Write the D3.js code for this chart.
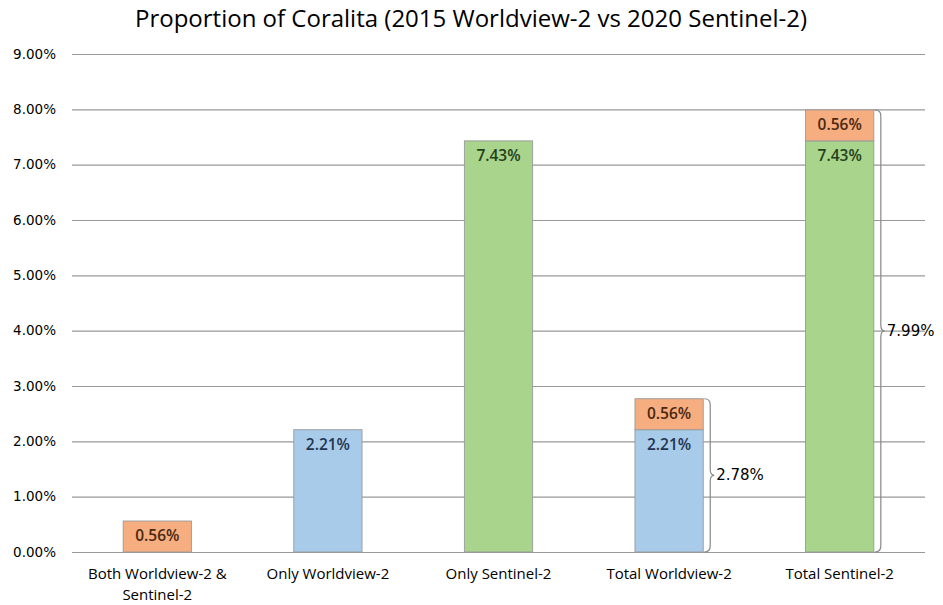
<!DOCTYPE html>
<html><head><meta charset="utf-8">
<script src="https://cdn.jsdelivr.net/npm/d3@7"></script>
<style>body{margin:0;background:#fff}</style>
</head><body>
<svg id="c" width="943" height="605"></svg>
<script>
const categories = ["Both Worldview-2 & Sentinel-2","Only Worldview-2","Only Sentinel-2","Total Worldview-2","Total Sentinel-2"];
const bothValues = [0.56, 0, 0, 0.56, 0.56];
const onlyWVValues = [0, 2.21, 0, 2.21, 0];
const onlySValues = [0, 0, 7.43, 0, 7.43];
const yTicks = [0,1,2,3,4,5,6,7,8,9];
const braceLabels = [null,null,null,"2.78%","7.99%"];
const title = "Proportion of Coralita (2015 Worldview-2 vs 2020 Sentinel-2)";

const svg = d3.select("#c");
const m = {l:72, r:18, t:54, b:53};
const W = 943, H = 605;
const x = d3.scaleBand().domain(categories).range([m.l, W-m.r]).paddingInner(0.6).paddingOuter(0.3);
const y = d3.scaleLinear().domain([0,9]).range([H-m.b, m.t]);

svg.append("text").attr("x",471).attr("y",27).attr("text-anchor","middle")
  .attr("font-family","Open Sans").attr("font-size",24).attr("fill","#000").text(title);

const yAxis = svg.append("g").attr("transform",`translate(${m.l},0)`)
  .call(d3.axisLeft(y).tickValues(yTicks).tickSize(-(W-m.r-m.l)).tickFormat(d=>d.toFixed(2)+"%"));
yAxis.select(".domain").remove();
yAxis.selectAll(".tick line").attr("stroke","#999").attr("stroke-width",1.2);
yAxis.selectAll(".tick text").attr("x",-16).attr("font-family","DejaVu Sans").attr("font-size",13.5).attr("fill","#000");

const series = [
  {name:"onlyWV", vals:onlyWVValues, fill:"#a9cbea", text:"#1f3550"},
  {name:"onlyS", vals:onlySValues, fill:"#a8d48c", text:"#24401a"},
  {name:"both", vals:bothValues, fill:"#f6ae80", text:"#4a2810"}
];
const base = categories.map(()=>0);
const bw = x.bandwidth();
series.forEach(s=>{
  categories.forEach((c,i)=>{
    const v = s.vals[i];
    if(!v) return;
    const y0 = base[i], y1 = base[i]+v;
    svg.append("rect").attr("x",x(c)).attr("width",bw).attr("y",y(y1)).attr("height",y(y0)-y(y1))
      .attr("fill",s.fill).attr("stroke","#999").attr("stroke-width",0.9);
    svg.append("text").attr("x",x(c)+bw/2).attr("y",y(y1)+20).attr("text-anchor","middle")
      .attr("font-family","Open Sans").attr("font-weight","600").attr("font-size",15.5).attr("fill",s.text)
      .text(v.toFixed(2)+"%");
    base[i] = y1;
  });
});

// x labels
categories.forEach(c=>{
  const t = svg.append("text").attr("x",x(c)+bw/2).attr("y",H-m.b+27).attr("text-anchor","middle")
    .attr("font-family","Open Sans").attr("font-size",15).attr("fill","#000");
  if(c.startsWith("Both")){
    t.append("tspan").attr("x",x(c)+bw/2).text("Both Worldview-2 &");
    t.append("tspan").attr("x",x(c)+bw/2).attr("dy",20.5).text("Sentinel-2");
  } else t.text(c);
});

// braces
function brace(xl, yt, yb, w){
  const ym=(yt+yb)/2, r=6;
  return `M${xl},${yt} Q${xl+r},${yt} ${xl+r},${yt+r} L${xl+r},${ym-r} Q${xl+r},${ym} ${xl+w},${ym} Q${xl+r},${ym} ${xl+r},${ym+r} L${xl+r},${yb-r} Q${xl+r},${yb} ${xl},${yb}`;
}
categories.forEach((c,i)=>{
  if(!braceLabels[i]) return;
  const xl = x(c)+bw+1;
  const yt = y(base[i]), yb = y(0);
  svg.append("path").attr("d",brace(xl,yt,yb,10)).attr("fill","none").attr("stroke","#888").attr("stroke-width",1.2);
  svg.append("text").attr("x",xl+12).attr("y",(yt+yb)/2+5).attr("font-family","DejaVu Sans").attr("font-size",15)
    .attr("fill","#000").text(braceLabels[i]);
});
</script>
</body></html>
